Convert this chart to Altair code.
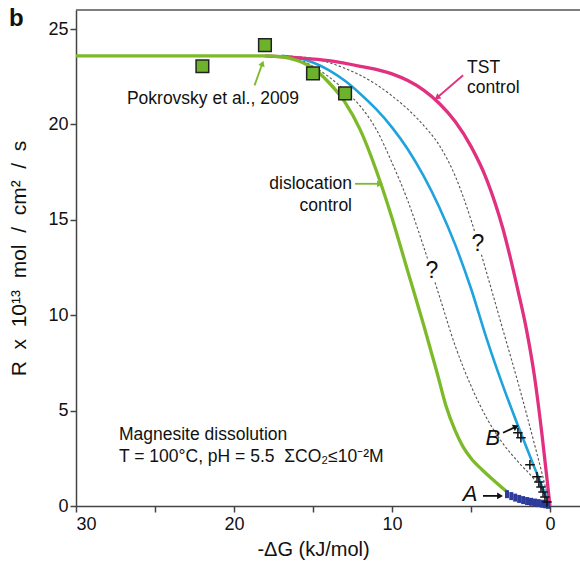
import altair as alt
import pandas as pd

FONT = "Liberation Sans"
NB = "\u00a0"

# ---- data (x = -dG in kJ/mol, y = R x 1e13 mol/cm2/s) ----
green_x = [30, 18.2, 17, 16, 15, 14, 13, 12, 11, 10, 9, 8, 7.15, 6.6, 6.0, 5.5, 5.0, 4.3, 3.5, 2.72]
green_y = [23.6, 23.6, 23.55, 23.35, 22.95, 22.2, 21.2, 19.7, 17.6, 15.1, 12.3, 9.5, 7.0, 5.3, 3.95, 3.1, 2.5, 1.9, 1.3, 0.74]

blue_x = [17, 16, 15, 14, 13, 12, 11, 10, 9, 8, 7, 6, 5, 4, 3, 2, 1, 0]
blue_y = [23.6, 23.5, 23.25, 22.85, 22.3, 21.6, 20.8, 19.85, 18.7, 17.3, 15.65, 13.7, 11.4, 8.75, 6.35, 4.15, 2.05, 0]

pink_x = [18.04, 16, 14, 12, 10, 9, 8, 7, 6, 5, 4, 3, 2, 1.5, 1, 0.5, 0.2, 0]
pink_y = [23.6, 23.5, 23.35, 23.05, 22.65, 22.3, 21.8, 21.1, 20.15, 18.85, 17.1, 14.6, 11.2, 9.3, 6.9, 3.7, 1.5, 0]

dash1_x = [17, 16, 15, 14, 13, 12, 11, 10, 9, 8, 7, 6, 5, 4, 3, 2, 1, 0.4, 0]
dash1_y = [23.6, 23.45, 23.05, 22.5, 21.8, 20.95, 19.75, 18.0, 16.0, 13.6, 11.0, 8.4, 6.3, 4.6, 3.3, 2.3, 1.4, 0.7, 0]

dash2_x = [17, 15, 13, 11, 10, 9, 8, 7, 6, 5, 4, 3, 2, 1, 0.5, 0]
dash2_y = [23.6, 23.45, 22.95, 22.1, 21.5, 20.8, 19.95, 18.9, 17.3, 15.0, 12.2, 9.3, 6.4, 3.3, 1.7, 0]

pok_x = [22.0, 18.04, 15.0, 12.97]
pok_y = [23.05, 24.16, 22.68, 21.63]

plus_x = [2.03, 1.84, 1.27, 0.82, 0.7, 0.57, 0.44, 0.32, 0.19]
plus_y = [3.84, 3.58, 2.16, 1.53, 1.26, 1.0, 0.74, 0.47, 0.21]

sqA_x = [2.72, 2.45, 2.2, 1.95, 1.7, 1.45, 1.2, 0.95, 0.72, 0.5, 0.3, 0.12]
sqA_y = [0.62, 0.52, 0.44, 0.37, 0.31, 0.26, 0.22, 0.18, 0.15, 0.12, 0.09, 0.06]

# annotation texts
labels_text = ["Pokrovsky et al., 2009", "TST", "control", "dislocation", "control",
               "Magnesite dissolution", "T = 100°C, pH = 5.5 " + NB + "ΣCO₂≤10⁻²M"]
labels_x = [21.33, 5.25, 5.25, 12.53, 12.53, 27.28, 27.28]
labels_y = [21.32, 22.95, 21.9, 16.89, 15.74, 3.74, 2.58]
labels_align = ["center", "left", "left", "right", "right", "left", "left"]

q_x = [7.47, 4.56]
q_y = [12.32, 13.74]

ab_text = ["B", "A"]
ab_x = [3.61, 5.06]
ab_y = [3.58, 0.63]

# arrows: start -> tip
arr_x0 = [18.7, 5.5, 12.34, 2.97, 4.24]
arr_y0 = [22.05, 22.58, 16.89, 3.84, 0.53]
arr_x1 = [18.2, 7.15, 10.76, 2.15, 3.16]
arr_y1 = [23.2, 21.4, 16.89, 4.16, 0.53]
arr_angle = [20, 232, 90, 65, 90]
arr_color = ["#7dba29", "#e0307f", "#7dba29", "#111111", "#111111"]

y_title = NB.join(["R ", "x ", "10¹³ ", "mol ", "/ ", "cm² ", "/ ", "s"])

GREEN = "#7dba29"
PINK = "#e0307f"
BLUE = "#1ea3dc"

xscale = alt.Scale(domain=[-1.9, 30], reverse=True, nice=False, zero=False)
yscale = alt.Scale(domain=[0, 26], nice=False, zero=False)

X = lambda **k: alt.X("x:Q", scale=xscale, **k)
Y = lambda **k: alt.Y("y:Q", scale=yscale, **k)


def line_df(xs, ys):
    return pd.DataFrame({"x": xs, "y": ys, "o": list(range(len(xs)))})


def line(xs, ys, color, width, dash=None):
    kw = dict(color=color, strokeWidth=width, interpolate="monotone", clip=True)
    if dash:
        kw["strokeDash"] = dash
    return alt.Chart(line_df(xs, ys)).mark_line(**kw).encode(
        x=X(), y=Y(), order="o:Q")


base_axes = alt.Chart(pd.DataFrame({"x": [0], "y": [0]})).mark_point(opacity=0).encode(
    x=X(title="-ΔG (kJ/mol)",
        axis=alt.Axis(values=[0, 5, 10, 15, 20, 25, 30],
                      labelExpr="datum.value % 10 === 0 ? datum.label : ''",
                      grid=False, tickSize=6, labelPadding=3, titlePadding=6,
                      titleX=237)),
    y=Y(title=y_title,
        axis=alt.Axis(values=[0, 5, 10, 15, 20, 25], grid=False, tickSize=6,
                      labelPadding=2, titlePadding=18, titleFontSize=21)),
)

top_rule = alt.Chart(pd.DataFrame({"a": [0]})).mark_rule(color="#555", strokeWidth=1.5).encode(
    x=alt.value(0), x2=alt.value(504), y=alt.value(0))

d1 = line(dash1_x, dash1_y, "#555555", 1.1, [2.5, 2])
d2 = line(dash2_x, dash2_y, "#555555", 1.1, [2.5, 2])
bl = line(blue_x, blue_y, BLUE, 2.6)
pk = line(pink_x, pink_y, PINK, 3.3)
gr = line(green_x, green_y, GREEN, 3.3)

sqA = alt.Chart(pd.DataFrame({"x": sqA_x, "y": sqA_y})).mark_point(
    shape="M-0.5,-1L0.5,-1L0.5,1L-0.5,1Z", filled=True, color="#2d3c9c", size=64,
    opacity=1).encode(x=X(), y=Y())

plus = alt.Chart(pd.DataFrame({"x": plus_x, "y": plus_y})).mark_point(
    shape="M-1,0L1,0M0,-1L0,1", filled=False, color="#111", size=90, strokeWidth=1.5,
    opacity=1).encode(x=X(), y=Y())

pok = alt.Chart(pd.DataFrame({"x": pok_x, "y": pok_y})).mark_point(
    shape="square", filled=True, fill="#6cb22a", stroke="#222", strokeWidth=1.5,
    size=160, opacity=1).encode(x=X(), y=Y())

lab_df = pd.DataFrame({"x": labels_x, "y": labels_y, "t": labels_text, "a": labels_align})
labs = []
for al in ["left", "center", "right"]:
    sub = lab_df[lab_df.a == al]
    labs.append(alt.Chart(sub).mark_text(font=FONT, fontSize=17.5, color="#111", align=al,
                                         baseline="middle").encode(x=X(), y=Y(), text="t:N"))

q_df = pd.DataFrame({"x": q_x, "y": q_y, "t": ["?", "?"]})
qs_halo = alt.Chart(q_df).mark_text(
    font=FONT, fontSize=23, color="white", stroke="white", strokeWidth=7).encode(
    x=X(), y=Y(), text="t:N")
qs = alt.Chart(q_df).mark_text(
    font=FONT, fontSize=23, color="#111").encode(x=X(), y=Y(), text="t:N")

ab = alt.Chart(pd.DataFrame({"x": ab_x, "y": ab_y, "t": ab_text})).mark_text(
    font=FONT, fontSize=22, fontStyle="italic", color="#111").encode(x=X(), y=Y(), text="t:N")

arr_df = pd.DataFrame({"x": arr_x0, "y": arr_y0, "x2": arr_x1, "y2": arr_y1,
                       "ang": arr_angle, "c": arr_color})
arr_lines = alt.Chart(arr_df).mark_rule(strokeWidth=1.8).encode(
    x=X(), y=Y(), x2="x2:Q", y2="y2:Q", color=alt.Color("c:N", scale=None))
arr_heads = alt.Chart(arr_df).mark_point(shape="triangle-up", filled=True, size=45, opacity=1).encode(
    x=alt.X("x2:Q", scale=xscale), y=alt.Y("y2:Q", scale=yscale),
    angle=alt.Angle("ang:Q", scale=None), color=alt.Color("c:N", scale=None))

b_label = alt.Chart(pd.DataFrame({"a": [0]})).mark_text(
    text="b", font=FONT, fontSize=24, fontWeight="bold", color="#111", align="left").encode(
    x=alt.value(-67), y=alt.value(9))

chart = alt.layer(base_axes, top_rule, d1, d2, bl, pk, gr, sqA, plus, pok, *labs, qs_halo, qs, ab,
                  arr_lines, arr_heads, b_label).properties(
    width=504, height=496,
    autosize=alt.AutoSizeParams(type="none"),
    padding={"left": 76, "top": 10, "right": 0, "bottom": 57},
).configure_view(stroke=None).configure_axis(
    labelFont=FONT, titleFont=FONT, labelFontSize=18, titleFontSize=20,
    titleFontWeight="normal", labelColor="#111", titleColor="#111",
    domainColor="#444", domainWidth=1.5, tickColor="#444", tickWidth=1.5,
)

chart.save("out.html", embed_options={"renderer": "svg", "actions": False})
